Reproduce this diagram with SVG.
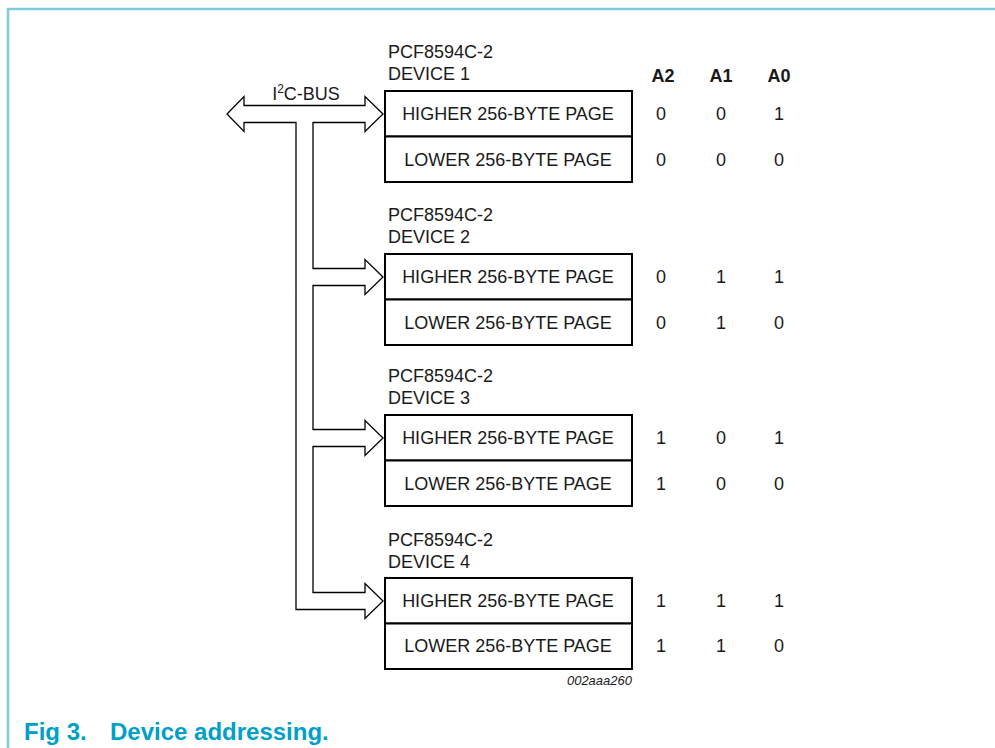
<svg xmlns="http://www.w3.org/2000/svg" width="995" height="748" viewBox="0 0 995 748">
<style>
.t{font-family:"Liberation Sans",Arial,sans-serif;font-size:18px;fill:#1a1a1a}
.c{text-anchor:middle}
.b{font-weight:bold}
.box{fill:#fff;stroke:#000;stroke-width:2}
.bus{fill:#fff;stroke:#000;stroke-width:1.3;stroke-linejoin:miter}
.frame{stroke:#7cccdc;stroke-width:2.5;fill:none}
</style>
<rect width="995" height="748" fill="#fff"/>
<path class="frame" d="M8,748 V9 H995"/>
<g id="connectors">
<path class="bus" d="M227,114 L244,96.5 L244,105.5 L365,105.5 L365,96.5 L383,114 L365,131.5 L365,122.5 L313,122.5 L313,268.5 L365,268.5 L365,259.5 L383,277 L365,294.5 L365,285.5 L313,285.5 L313,429.5 L365,429.5 L365,420.5 L383,438 L365,455.5 L365,446.5 L313,446.5 L313,592.5 L365,592.5 L365,583.5 L383,601 L365,618.5 L365,609.5 L296,609.5 L296,122.5 L244,122.5 L244,131.5 Z"/>
<text class="t c" x="306" y="100">I<tspan dy="-7" font-size="12">2</tspan><tspan dy="7">C-BUS</tspan></text>
</g>
<g id="header">
<text class="t c b" x="663" y="82">A2</text>
<text class="t c b" x="721" y="82">A1</text>
<text class="t c b" x="779" y="82">A0</text>
</g>
<g id="device1">
<text class="t" x="388" y="58">PCF8594C-2</text>
<text class="t" x="388" y="80">DEVICE 1</text>
<rect class="box" x="385" y="91" width="247" height="45.5"/>
<rect class="box" x="385" y="136.5" width="247" height="45.5"/>
<text class="t c" x="508" y="120">HIGHER 256-BYTE PAGE</text>
<text class="t c" x="508" y="166">LOWER 256-BYTE PAGE</text>
<text class="t c" x="661" y="120">0</text><text class="t c" x="721" y="120">0</text><text class="t c" x="779" y="120">1</text>
<text class="t c" x="661" y="166">0</text><text class="t c" x="721" y="166">0</text><text class="t c" x="779" y="166">0</text>
</g>
<g id="device2">
<text class="t" x="388" y="221">PCF8594C-2</text>
<text class="t" x="388" y="243">DEVICE 2</text>
<rect class="box" x="385" y="254" width="247" height="45.5"/>
<rect class="box" x="385" y="299.5" width="247" height="45.5"/>
<text class="t c" x="508" y="283">HIGHER 256-BYTE PAGE</text>
<text class="t c" x="508" y="329">LOWER 256-BYTE PAGE</text>
<text class="t c" x="661" y="283">0</text><text class="t c" x="721" y="283">1</text><text class="t c" x="779" y="283">1</text>
<text class="t c" x="661" y="329">0</text><text class="t c" x="721" y="329">1</text><text class="t c" x="779" y="329">0</text>
</g>
<g id="device3">
<text class="t" x="388" y="382">PCF8594C-2</text>
<text class="t" x="388" y="404">DEVICE 3</text>
<rect class="box" x="385" y="415" width="247" height="45.5"/>
<rect class="box" x="385" y="460.5" width="247" height="45.5"/>
<text class="t c" x="508" y="444">HIGHER 256-BYTE PAGE</text>
<text class="t c" x="508" y="490">LOWER 256-BYTE PAGE</text>
<text class="t c" x="661" y="444">1</text><text class="t c" x="721" y="444">0</text><text class="t c" x="779" y="444">1</text>
<text class="t c" x="661" y="490">1</text><text class="t c" x="721" y="490">0</text><text class="t c" x="779" y="490">0</text>
</g>
<g id="device4">
<text class="t" x="388" y="546">PCF8594C-2</text>
<text class="t" x="388" y="568">DEVICE 4</text>
<rect class="box" x="385" y="578" width="247" height="45.5"/>
<rect class="box" x="385" y="623.5" width="247" height="45.5"/>
<text class="t c" x="508" y="607">HIGHER 256-BYTE PAGE</text>
<text class="t c" x="508" y="652">LOWER 256-BYTE PAGE</text>
<text class="t c" x="661" y="607">1</text><text class="t c" x="721" y="607">1</text><text class="t c" x="779" y="607">1</text>
<text class="t c" x="661" y="652">1</text><text class="t c" x="721" y="652">1</text><text class="t c" x="779" y="652">0</text>
</g>
<text x="632" y="685" text-anchor="end" style="font-family:'Liberation Sans',Arial,sans-serif;font-size:13px;font-style:italic;fill:#1a1a1a">002aaa260</text>
<text x="24" y="740" style="font-family:'Liberation Sans',Arial,sans-serif;font-size:24px;font-weight:bold;fill:#00a0c8">Fig 3.<tspan x="110">Device addressing.</tspan></text>
</svg>
